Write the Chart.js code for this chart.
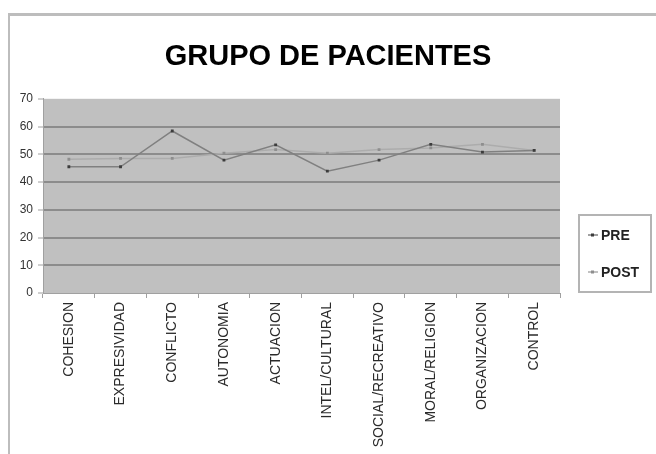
<!DOCTYPE html>
<html>
<head>
<meta charset="utf-8">
<title>GRUPO DE PACIENTES</title>
<script src="https://cdn.jsdelivr.net/npm/chart.js@4.4.1/dist/chart.umd.min.js"></script>
<style>
  html, body { margin: 0; padding: 0; background: #fff; }
  #wrap { width: 656px; height: 454px; }
</style>
</head>
<body>
<div id="wrap"><canvas id="myChart" width="656" height="454"></canvas></div>
<script>
// data
var categories = ["COHESION", "EXPRESIVIDAD", "CONFLICTO", "AUTONOMIA", "ACTUACION",
  "INTEL/CULTURAL", "SOCIAL/RECREATIVO", "MORAL/RELIGION", "ORGANIZACION", "CONTROL"];
var pre = [45.5, 45.5, 58.4, 47.9, 53.4, 43.9, 47.9, 53.6, 50.8, 51.4];
var post = [48.2, 48.5, 48.5, 50.4, 51.7, 50.4, 51.7, 52.3, 53.6, 51.4];
var yTicks = [0, 10, 20, 30, 40, 50, 60, 70];

// grey plot background + outer frame
const backdrop = {
  id: "backdrop",
  beforeDraw(chart) {
    const c = chart.ctx, a = chart.chartArea;
    c.save();
    c.fillStyle = "#c0c0c0";
    c.fillRect(a.left, a.top, a.right - a.left, a.bottom - a.top);
    c.fillStyle = "#bdbdbd";
    c.fillRect(8, 13, 656 - 8, 3);   // frame top
    c.fillRect(8, 13, 2, 454 - 13);  // frame left
    c.restore();
  }
};

// legend box at the right, drawn by hand
const sideLegend = {
  id: "sideLegend",
  afterDraw(chart) {
    const c = chart.ctx;
    c.save();
    c.strokeStyle = "#b4b4b4";
    c.lineWidth = 2;
    c.strokeRect(579, 215, 72, 77);
    const rows = [235, 272];
    chart.data.datasets.forEach(function (ds, i) {
      const y = rows[i];
      c.strokeStyle = ds.borderColor;
      c.lineWidth = 1.5;
      c.beginPath();
      c.moveTo(588, y);
      c.lineTo(598, y);
      c.stroke();
      c.fillStyle = ds.pointBackgroundColor;
      c.fillRect(591, y - 1.5, 3, 3);
      c.fillStyle = "#222";
      c.font = "bold 14px Arial, 'Liberation Sans', sans-serif";
      c.textBaseline = "middle";
      c.textAlign = "left";
      c.fillText(ds.label, 601, y + 1);
    });
    c.restore();
  }
};

const ctx = document.getElementById("myChart");
new Chart(ctx, {
  type: "line",
  data: {
    labels: categories,
    datasets: [
      {
        label: "PRE",
        data: pre,
        borderColor: "#808080",
        borderWidth: 1.5,
        pointStyle: "rect",
        pointRadius: 2,
        pointBackgroundColor: "#3c3c3c",
        pointBorderColor: "#3c3c3c",
        pointBorderWidth: 0,
        tension: 0,
        yAxisID: "y"
      },
      {
        label: "POST",
        data: post,
        borderColor: "#acacac",
        borderWidth: 1.5,
        pointStyle: "rect",
        pointRadius: 2,
        pointBackgroundColor: "#8e8e8e",
        pointBorderColor: "#8e8e8e",
        pointBorderWidth: 0,
        tension: 0,
        yAxisID: "y"
      }
    ]
  },
  options: {
    responsive: false,
    animation: false,
    devicePixelRatio: 1,
    layout: { padding: { top: 0, left: 0, right: 0, bottom: 0 } },
    plugins: {
      legend: { display: false },
      tooltip: { enabled: false },
      title: {
        display: true,
        text: "GRUPO DE PACIENTES",
        color: "#000",
        font: { family: "Arial, 'Liberation Sans', sans-serif", size: 29, weight: "bold", lineHeight: 1.2 },
        padding: { top: 40, bottom: 24 }
      }
    },
    scales: {
      x: {
        offset: true,
        grid: { offset: true, drawOnChartArea: false, drawTicks: true, tickLength: 5, tickColor: "#a0a0a0" },
        border: { color: "#a0a0a0", width: 1 },
        ticks: {
          autoSkip: false,
          maxRotation: 90,
          minRotation: 90,
          padding: 4,
          color: "#2a2a2a",
          font: { family: "Arial, 'Liberation Sans', sans-serif", size: 14 }
        },
        afterFit: function (s) { s.height = 161; }
      },
      y: {
        position: "left",
        min: 0,
        max: 70,
        afterBuildTicks: function (s) { s.ticks = yTicks.map(function (v) { return { value: v }; }); },
        grid: {
          color: function (c) { return (c.tick && (c.tick.value === 0 || c.tick.value === 70)) ? "rgba(0,0,0,0)" : "#8c8c8c"; },
          lineWidth: 2,
          tickLength: 5,
          tickColor: "#a0a0a0",
          tickWidth: 1
        },
        border: { color: "#a0a0a0", width: 1 },
        ticks: {
          padding: 5,
          color: "#333",
          font: { family: "Arial, 'Liberation Sans', sans-serif", size: 12 }
        },
        afterFit: function (s) { s.width = 43; }
      },
      yRight: {
        type: "linear",
        position: "right",
        display: true,
        grid: { display: false, drawTicks: false },
        border: { display: false },
        ticks: { display: false },
        afterFit: function (s) { s.width = 96; }
      }
    }
  },
  plugins: [backdrop, sideLegend]
});
</script>
</body>
</html>
